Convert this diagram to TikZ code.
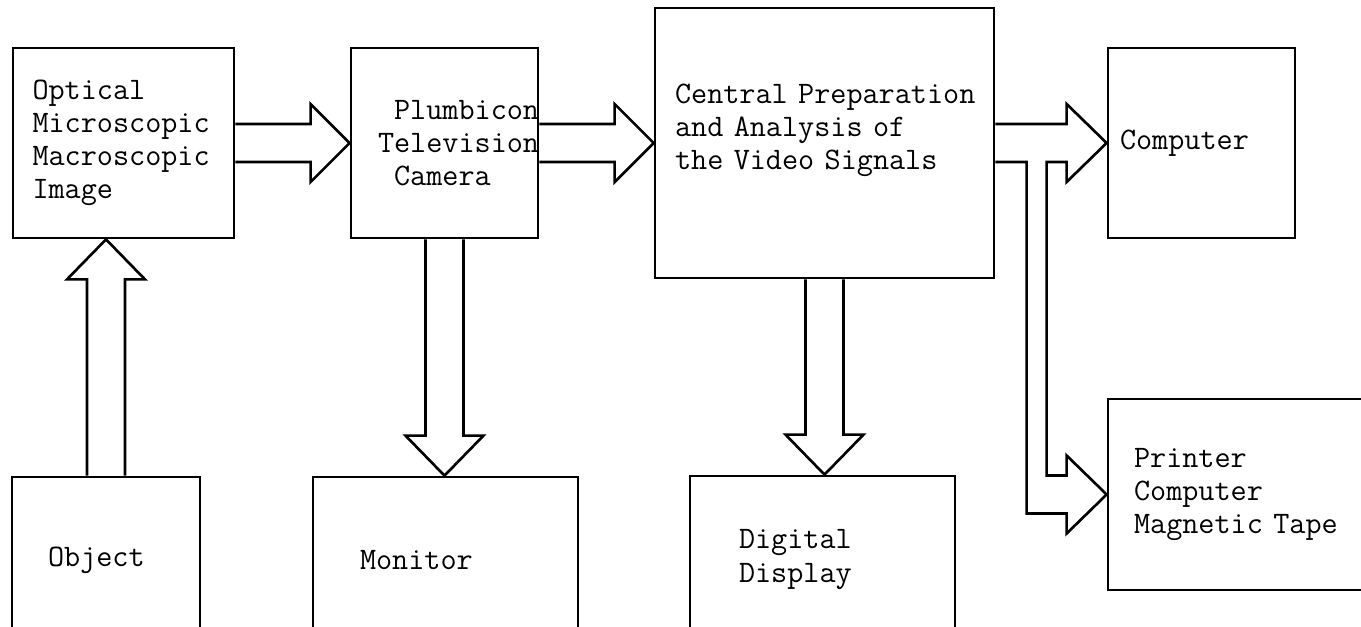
\documentclass[tikz,border=0pt]{standalone}
\usepackage{fontspec}
\usetikzlibrary{calc}

\begin{document}
\begin{tikzpicture}[x=0.02cm, y=-0.02cm,
  stage/.style={draw, line width=1.6pt, align=left, inner sep=0pt, font=\ttfamily\fontsize{17.8pt}{18.8pt}\selectfont},
  bigarrow/.style={draw, line width=1.5pt}]
\useasboundingbox (0,0) rectangle (1361,626);
\clip (0,0) rectangle (1361,626);

% boxes
\node[stage, minimum width=4.42cm, minimum height=3.8cm, text width=3.64cm] (opt) at (123.5,143) {Optical\\Microscopic\\Macroscopic\\Image};
\node[stage, minimum width=3.74cm, minimum height=3.8cm, text width=2.66cm] (cam) at (444.5,143) {\phantom{P}Plumbicon\\Television\\\phantom{P}Camera};
\node[stage, minimum width=6.78cm, minimum height=5.4cm, text width=5.98cm] (cpa) at (824.5,143) {Central~Preparation\\and Analysis of\\the Video Signals\\\mbox{}};
\node[stage, minimum width=3.74cm, minimum height=3.8cm, text width=3.26cm] (comp) at (1201.5,143) {Computer};
\node[stage, minimum width=5.84cm, minimum height=3.82cm, text width=4.8cm] (prn) at (1254,494.5) {Printer\\Computer\\Magnetic Tape};
\node[stage, minimum width=3.76cm, minimum height=3.32cm, text width=2.32cm] (obj) at (106,560) {Object};
\node[stage, minimum width=5.3cm, minimum height=3.32cm, text width=3.42cm] (mon) at (445.5,560) {Monitor};
\node[stage, minimum width=5.3cm, minimum height=3.34cm, text width=3.34cm] (disp) at (822.5,559.5) {Digital\\Display};

% arrow tips on the box edges
\coordinate (opt-in) at (obj.north |- opt.south);
\coordinate (mon-in) at (cam.south |- mon.north);
\coordinate (disp-in) at (cpa.south |- disp.north);

% hollow arrows
\draw[bigarrow] ($(obj.north)+(-19,0)$) -- ($(opt-in)+(-19,40)$) -- ($(opt-in)+(-39,40)$) -- (opt-in) -- ($(opt-in)+(39,40)$) -- ($(opt-in)+(19,40)$) -- ($(obj.north)+(19,0)$);
\draw[bigarrow] ($(opt.east)+(0,-19)$) -- ($(cam.west)+(-39,-19)$) -- ($(cam.west)+(-39,-39)$) -- (cam.west) -- ($(cam.west)+(-39,39)$) -- ($(cam.west)+(-39,19)$) -- ($(opt.east)+(0,19)$);
\draw[bigarrow] ($(cam.east)+(0,-19)$) -- ($(cpa.west)+(-39,-19)$) -- ($(cpa.west)+(-39,-39)$) -- (cpa.west) -- ($(cpa.west)+(-39,39)$) -- ($(cpa.west)+(-39,19)$) -- ($(cam.east)+(0,19)$);
\draw[bigarrow] ($(cam.south)+(-19,0)$) -- ($(mon-in)+(-19,-40)$) -- ($(mon-in)+(-39,-40)$) -- (mon-in) -- ($(mon-in)+(39,-40)$) -- ($(mon-in)+(19,-40)$) -- ($(cam.south)+(19,0)$);
\draw[bigarrow] ($(cpa.south)+(-19,0)$) -- ($(disp-in)+(-19,-40)$) -- ($(disp-in)+(-39,-40)$) -- (disp-in) -- ($(disp-in)+(39,-40)$) -- ($(disp-in)+(19,-40)$) -- ($(cpa.south)+(19,0)$);
% split arrow to computer and printer
\draw[bigarrow] ($(cpa.east)+(0,-19)$) -- ($(comp.west)+(-40,-19)$) -- ($(comp.west)+(-40,-39)$) -- (comp.west) -- ($(comp.west)+(-40,39)$) -- ($(comp.west)+(-40,19)$) -- ($(comp.west)+(-60,19)$)
  -- ($(prn.west)+(-60,-19)$) -- ($(prn.west)+(-40,-19)$) -- ($(prn.west)+(-40,-39)$) -- (prn.west) -- ($(prn.west)+(-40,39)$) -- ($(prn.west)+(-40,19)$) -- ($(prn.west)+(-80,19)$)
  -- ($(comp.west)+(-80,19)$) -- ($(cpa.east)+(0,19)$);
\end{tikzpicture}
\end{document}
